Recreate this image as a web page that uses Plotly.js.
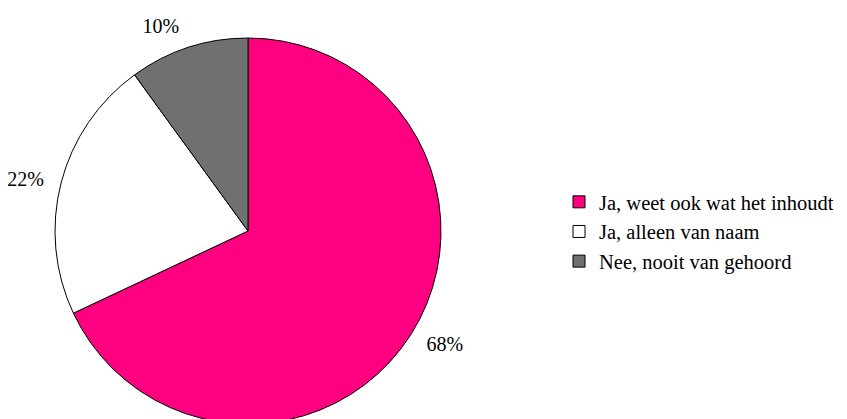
<!DOCTYPE html>
<html>
<head>
<meta charset="utf-8">
<script src="https://cdn.plot.ly/plotly-3.0.1.min.js"></script>
<style>
html,body{margin:0;padding:0;overflow:hidden;background:#fff;}
#chart{width:847px;height:470px;}
</style>
</head>
<body>
<div id="chart"></div>
<script>
const categories = ["Ja, weet ook wat het inhoudt", "Ja, alleen van naam", "Nee, nooit van gehoord"];
const values = [68, 22, 10];
const colors = ["#FF0080", "#FFFFFF", "#707070"];

const FONT = "Liberation Serif";
const W = 847, H = 470;
const CX = 248, CY = 231, R = 193, RLABEL = 205;

const pie = {
  type: "pie",
  labels: categories,
  values: values,
  sort: false,
  direction: "clockwise",
  rotation: 0,
  marker: {colors: colors, line: {color: "#000000", width: 1}},
  textinfo: "none",
  hoverinfo: "label+percent",
  domain: {x: [(CX - R) / W, (CX + R) / W], y: [(H - CY - R) / H, (H - CY + R) / H]}
};

// transparent companion pie that only carries the percentage labels, slightly further out
const labelPie = {
  type: "pie",
  labels: categories,
  values: values,
  sort: false,
  direction: "clockwise",
  rotation: 0,
  showlegend: false,
  marker: {colors: ["rgba(0,0,0,0)", "rgba(0,0,0,0)", "rgba(0,0,0,0)"], line: {width: 0}},
  textinfo: "percent",
  texttemplate: "%{percent:.0%}",
  textposition: "outside",
  outsidetextfont: {family: FONT, size: 20, color: "#000"},
  hoverinfo: "skip",
  domain: {x: [(CX - RLABEL) / W, (CX + RLABEL) / W], y: [(H - CY - RLABEL) / H, (H - CY + RLABEL) / H]}
};

const layout = {
  width: W,
  height: H,
  margin: {l: 0, r: 0, t: 0, b: 0},
  paper_bgcolor: "#fff",
  plot_bgcolor: "#fff",
  font: {family: FONT, size: 20.5, color: "#000"},
  showlegend: true,
  legend: {
    x: 559 / W, xanchor: "left",
    y: 1 - 182 / H, yanchor: "top",
    font: {family: FONT, size: 20.5, color: "#000"},
    itemwidth: 30,
    bgcolor: "rgba(0,0,0,0)",
    tracegroupgap: 0
  }
};

Plotly.newPlot("chart", [pie, labelPie], layout, {displayModeBar: false, staticPlot: true});
</script>
</body>
</html>
